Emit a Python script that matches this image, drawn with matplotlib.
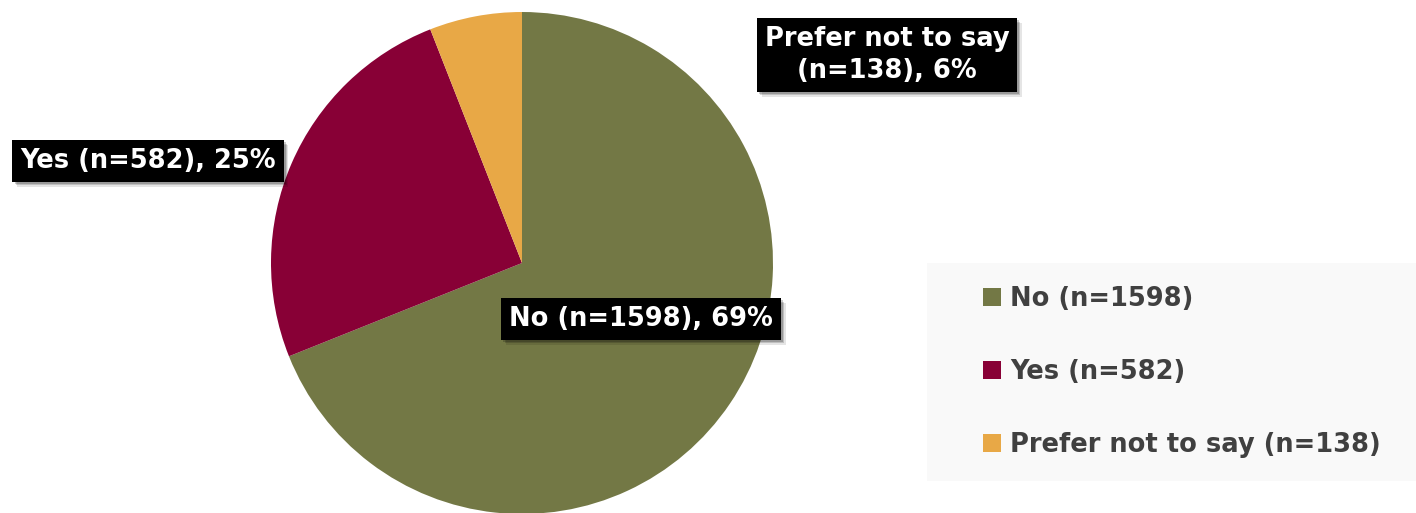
import matplotlib.pyplot as plt
import matplotlib.patheffects as pe
from matplotlib.patches import Rectangle

# survey answers
categories = ['No', 'Yes', 'Prefer not to say']
counts = [1598, 582, 138]
percents = [69, 25, 6]
colors = ['#737845', '#880036', '#E8A846']

W, H = 1416, 513
fig = plt.figure(figsize=(W / 100, H / 100), dpi=100)
fig.patch.set_facecolor('white')

def fx(px):
    return px / W

def fy(py):
    return 1 - py / H

# pie, drawn clockwise from 12 o'clock
cx, cy, r = 522, 263, 251
ax = fig.add_axes([fx(cx - r), fy(cy + r), 2 * r / W, 2 * r / H])
wedges, _ = ax.pie(counts, colors=colors, startangle=90, counterclock=False,
                   wedgeprops=dict(linewidth=0))
ax.set_xlim(-1, 1)
ax.set_ylim(-1, 1)
ax.set_aspect('equal')
ax.axis('off')

# data labels in black boxes with a soft shadow
font = dict(family='DejaVu Sans', weight='bold', size=18.5, color='white')
label_pos = [(641, 319), (148, 161), (887, 55)]
label_txt = [f'{c} (n={n}), {p}%' for c, n, p in zip(categories, counts, percents)]
label_txt[2] = f'Prefer not to say\n(n={counts[2]}), {percents[2]}%'

shadow = [pe.SimplePatchShadow(offset=(1.5, -1.5), shadow_rgbFace='#000000', alpha=0.2),
          pe.SimplePatchShadow(offset=(2.5, -2.5), shadow_rgbFace='#000000', alpha=0.16),
          pe.SimplePatchShadow(offset=(3.5, -3.5), shadow_rgbFace='#000000', alpha=0.1),
          pe.Normal()]
for (px, py), txt in zip(label_pos, label_txt):
    t = fig.text(fx(px), fy(py), txt, ha='center', va='center',
                 multialignment='center', linespacing=1.3, **font,
                 bbox=dict(boxstyle='square,pad=0.3', facecolor='black', edgecolor='none'))
    t.get_bbox_patch().set_path_effects(shadow)

# legend panel
fig.patches.append(Rectangle((fx(927), fy(481)), fx(1416 - 927), (481 - 263) / H,
                             transform=fig.transFigure, facecolor='#f9f9f9',
                             edgecolor='none', zorder=0))
leg = fig.legend(wedges, [f'{c} (n={n})' for c, n in zip(categories, counts)],
                 loc='center left', bbox_to_anchor=(fx(970), fy(372)),
                 frameon=False, borderpad=0, labelspacing=1.82,
                 handlelength=0.7, handleheight=0.7, handletextpad=0.35,
                 prop=dict(family='DejaVu Sans', weight='bold', size=18.5))
for txt in leg.get_texts():
    txt.set_color('#404040')

fig.savefig('out.png', dpi=100)
